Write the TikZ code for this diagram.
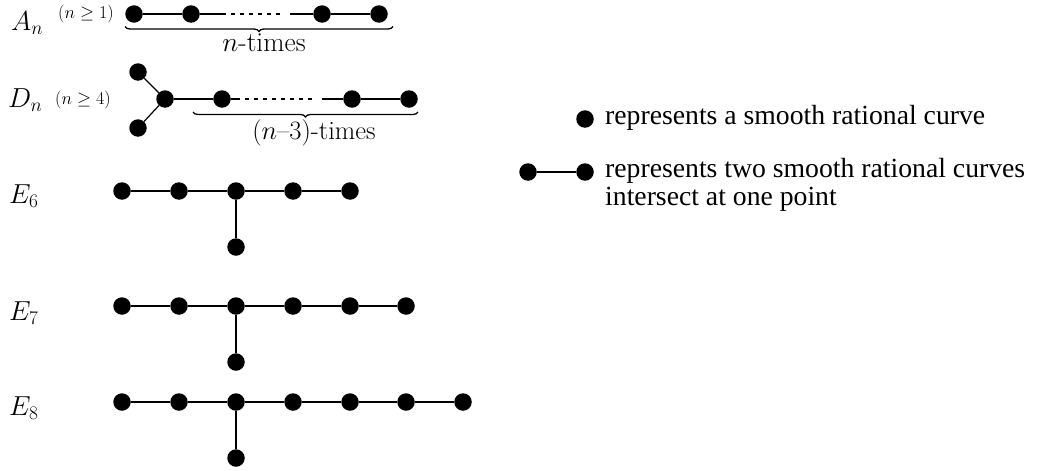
\RequirePackage{fix-cm}
\documentclass[tikz,border=0pt]{standalone}
\usepackage{fontspec}
\newfontfamily\tnr{Liberation Serif}
\usetikzlibrary{decorations.pathreplacing}
\begin{document}
\begin{tikzpicture}[x=1pt,y=-1pt,
  dot/.style={circle,fill=black,inner sep=0pt,minimum size=17.5pt},
  edge/.style={line width=1.2pt},
  dotted line/.style={line width=1.1pt,dash pattern=on 4.5pt off 4.5pt,dash phase=4.5pt},
  lab/.style={inner sep=0pt,font=\fontsize{27.5}{32}\selectfont},
  cond/.style={inner sep=0pt,font=\fontsize{18}{21}\selectfont,anchor=base west},
  leg/.style={inner sep=0pt,font=\tnr\fontsize{27.7}{32}\selectfont,anchor=base west},
  bracel/.style={decorate,decoration={brace,mirror,amplitude=5pt},line width=1.3pt}]
\useasboundingbox (0,0) rectangle (1044,471);

% A_n
\node[lab,anchor=base west] (Al) at (11,30) {$A_n$};
\node[cond] (Ac) at (58,19) {$(n\geq1)$};
\node[dot] (a1) at (134,14) {};
\node[dot] (a2) at (191,14) {};
\node[dot] (a3) at (322,14) {};
\node[dot] (a4) at (379,14) {};
\coordinate (ac1) at (226,14);
\coordinate (ac2) at (284,14);
\coordinate (ac3) at (290,14);
\draw[edge] (a1) -- (a2) -- (ac1);
\draw[dotted line] (ac1) -- (ac2);
\draw[edge] (ac3) -- (a3) -- (a4);
\coordinate (ab1) at (125,26.5);
\coordinate (ab2) at (393,26.5);
\draw[bracel] (ab1) -- (ab2);
\node[lab,anchor=base] (At) at (264,51) {$n$-times};

% D_n
\node[lab,anchor=base west] (Dl) at (8,107) {$D_n$};
\node[cond] (Dc) at (55,104) {$(n\geq4)$};
\node[dot] (d0) at (165,99) {};
\node[dot] (dt) at (138,72) {};
\node[dot] (db) at (138,128) {};
\node[dot] (d1) at (222,99) {};
\node[dot] (d2) at (352,99) {};
\node[dot] (d3) at (409,99) {};
\coordinate (dc1) at (240,99);
\coordinate (dc2) at (316,99);
\coordinate (dc3) at (322,99);
\draw[edge] (dt) -- (d0) -- (db);
\draw[edge] (d0) -- (d1) -- (dc1);
\draw[dotted line] (dc1) -- (dc2);
\draw[edge] (dc3) -- (d2) -- (d3);
\coordinate (db1) at (193,112);
\coordinate (db2) at (418,112);
\draw[bracel] (db1) -- (db2);
\node[lab,anchor=base,font=\fontsize{26.5}{31}\selectfont] (Dt) at (314,139) {$(n$\textendash$3)$-times};

% E_6
\node[lab,anchor=base west] (E6l) at (9,203) {$E_6$};
\foreach \i/\x in {1/122,2/179,3/236,4/293,5/350}
  \node[dot] (e6\i) at (\x,191) {};
\node[dot] (e6b) at (236,247) {};
\draw[edge] (e61) -- (e62) -- (e63) -- (e64) -- (e65);
\draw[edge] (e63) -- (e6b);

% E_7
\node[lab,anchor=base west] (E7l) at (9,320) {$E_7$};
\foreach \i/\x in {1/122,2/179,3/236,4/293,5/350,6/406}
  \node[dot] (e7\i) at (\x,306) {};
\node[dot] (e7b) at (236,362) {};
\draw[edge] (e71) -- (e72) -- (e73) -- (e74) -- (e75) -- (e76);
\draw[edge] (e73) -- (e7b);

% E_8
\node[lab,anchor=base west] (E8l) at (9,415) {$E_8$};
\foreach \i/\x in {1/122,2/179,3/236,4/293,5/350,6/406,7/463}
  \node[dot] (e8\i) at (\x,402) {};
\node[dot] (e8b) at (236,458) {};
\draw[edge] (e81) -- (e82) -- (e83) -- (e84) -- (e85) -- (e86) -- (e87);
\draw[edge] (e83) -- (e8b);

% legend
\node[dot] (l1) at (585,119) {};
\node[leg] (t1) at (605,124.5) {represents a smooth rational curve};
\node[dot] (l2) at (528,172) {};
\node[dot] (l3) at (585,172) {};
\draw[edge] (l2) -- (l3);
\node[leg] (t2) at (605,177) {represents two smooth rational curves};
\node[leg] (t3) at (605,205) {intersect at one point};
\end{tikzpicture}
\end{document}
